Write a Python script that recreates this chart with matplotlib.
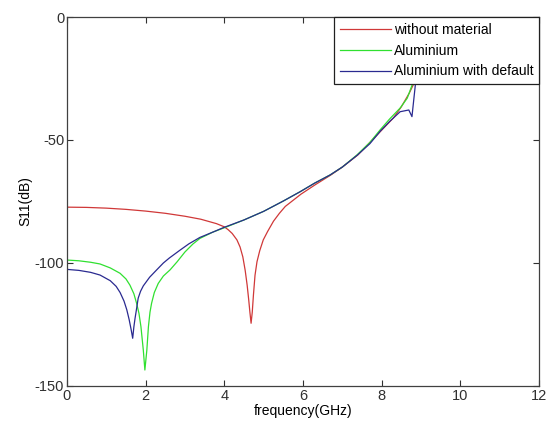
import matplotlib
matplotlib.use("Agg")
import matplotlib.pyplot as plt

plt.rcParams['font.family'] = ['Liberation Sans', 'DejaVu Sans']
plt.rcParams['axes.unicode_minus'] = False

# without material (red)
red_x = [0, 0.5, 1.0, 1.5, 2.0, 2.5, 3.0, 3.4, 3.8, 4.0, 4.1, 4.2, 4.32, 4.4, 4.47, 4.53,
         4.58, 4.62, 4.65, 4.68, 4.71, 4.74, 4.78, 4.83, 4.9, 4.99, 5.1, 5.25, 5.4, 5.55,
         5.75, 5.95, 6.3, 6.7, 7.0, 7.4, 7.7, 8.0, 8.3, 8.5, 8.7, 8.85, 8.95]
red_y = [-77.3, -77.4, -77.7, -78.2, -78.9, -79.8, -81.0, -82.2, -84.0, -85.3, -86.5, -88.0,
         -90.6, -93.5, -97.5, -103, -109, -115, -120, -124.5, -120, -113, -105, -99.5, -95,
         -90.6, -87.2, -83, -79.8, -77, -74.5, -72, -68.3, -64.3, -61, -56, -51, -46, -41,
         -36.5, -31, -26, -20]

# Aluminium (green)
green_x = [0, 0.3, 0.6, 0.84, 1.1, 1.35, 1.5, 1.6, 1.7, 1.77, 1.83, 1.88, 1.94, 1.98, 2.03,
           2.07, 2.11, 2.15, 2.22, 2.32, 2.45, 2.62, 2.8, 3.0, 3.2, 3.38, 3.7, 4.06, 4.5,
           5.0, 5.5, 5.93, 6.3, 6.69, 7.0, 7.37, 7.7, 7.96, 8.2, 8.47, 8.65, 8.8, 8.95]
green_y = [-98.8, -99.1, -99.7, -100.4, -102, -104.2, -106.5, -109, -112.5, -116.4, -120.5,
           -125.9, -135.4, -143.5, -135.4, -125.9, -120, -116.4, -112, -108.3, -105.3,
           -102.8, -99.5, -95.5, -92.3, -90, -87.5, -85.3, -82.5, -79, -74.8, -71, -67.5,
           -64.2, -61, -56.1, -51, -45.9, -41.5, -37, -33, -26.5, -18]

# Aluminium with default (blue)
blue_x = [0, 0.3, 0.6, 0.84, 1.1, 1.25, 1.35, 1.45, 1.52, 1.58, 1.63, 1.67, 1.7, 1.73,
          1.76, 1.81, 1.87, 1.94, 2.1, 2.28, 2.45, 2.6, 2.88, 3.1, 3.38, 3.7, 3.98, 4.5,
          5.0, 5.5, 5.93, 6.3, 6.69, 7.0, 7.37, 7.7, 7.96, 8.2, 8.47, 8.69, 8.77, 8.86, 8.95]
blue_y = [-102.6, -103.0, -103.8, -104.9, -107.2, -109.5, -112, -115.5, -119, -123, -127,
          -130.6, -126, -122.5, -119.5, -114.3, -111.5, -109.3, -105.8, -102.8, -100, -98,
          -94.7, -92.2, -89.6, -87.5, -85.6, -82.5, -79, -74.8, -71, -67.5, -64.2, -61,
          -56.3, -51.5, -46.5, -42.5, -38.5, -37.8, -40.5, -27, -15]

xticks = [0, 2, 4, 6, 8, 10, 12]
yticks = [0, -50, -100, -150]

fig = plt.figure(figsize=(5.46, 4.23), dpi=100)
ax = fig.add_axes([0.1227, 0.0875, 0.8645, 0.8723])

lw = 0.9
ax.plot(red_x, red_y, color='#d03838', lw=lw, label='without material')
ax.plot(green_x, green_y, color='#30e030', lw=lw, label='Aluminium')
ax.plot(blue_x, blue_y, color='#2a2a90', lw=lw, label='Aluminium with default')

ax.set_xlim(0, 12)
ax.set_ylim(-150, 0)
ax.set_xticks(xticks)
ax.set_yticks(yticks)
ax.tick_params(direction='in', top=True, right=True, length=4, width=0.8,
               colors='#303030', labelsize=10.5, pad=2)
for s in ax.spines.values():
    s.set_color('#404040')
    s.set_linewidth(0.9)

ax.set_xlabel('frequency(GHz)', fontsize=10, labelpad=1)
ax.set_ylabel('S11(dB)', fontsize=10, labelpad=2)

leg = ax.legend(loc='upper right', fontsize=10, frameon=True, fancybox=False,
                framealpha=1, edgecolor='#202020', borderaxespad=0, handlelength=3.7,
                handletextpad=0.2, borderpad=0.4, labelspacing=0.5)
leg.get_frame().set_linewidth(0.9)

fig.savefig('out.png', dpi=100)
